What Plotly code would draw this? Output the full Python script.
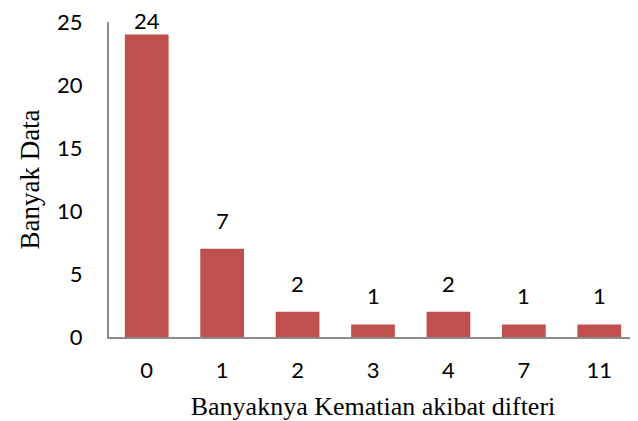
import plotly.graph_objects as go

categories = ["0", "1", "2", "3", "4", "7", "11"]
values = [24, 7, 2, 1, 2, 1, 1]
y_ticks = [0, 5, 10, 15, 20, 25]

SANS = "Lato, Open Sans, sans-serif"
SERIF = "Liberation Serif, Times New Roman, serif"

fig = go.Figure(go.Bar(
    x=categories, y=values,
    marker=dict(color="#C0504D", line=dict(width=0)),
    cliponaxis=False,
))

# data labels above bars (the tallest label is kept inside the plot area, as in the source)
top = max(values)
for i, v in enumerate(values):
    fig.add_annotation(
        x=i, y=v, text=str(v), showarrow=False, yanchor="bottom",
        yshift=-1 if v == top else 13,
        font=dict(family=SANS, size=22, color="black"),
    )

fig.update_layout(
    width=630, height=413,
    margin=dict(l=101, r=1, t=14, b=84, autoexpand=False),
    paper_bgcolor="white", plot_bgcolor="white",
    bargap=0.42, showlegend=False,
    xaxis=dict(
        type="category", categoryorder="array", categoryarray=categories,
        range=[-0.5, len(categories) - 0.5],
        showgrid=False, showline=True, linecolor="#8c8c8c", linewidth=2,
        ticks="", ticklabelstandoff=13, automargin=False,
        tickfont=dict(family=SANS, size=22, color="black"),
        title=dict(text="Banyaknya Kematian akibat difteri", standoff=14,
                   font=dict(family=SERIF, size=26, color="black")),
    ),
    yaxis=dict(
        range=[0, 25], tickvals=y_ticks, showgrid=False, zeroline=False, automargin=False,
        showline=True, linecolor="#8c8c8c", linewidth=2, ticks="", ticklabelstandoff=20,
        ticklabeloverflow="allow",
        tickfont=dict(family=SANS, size=22, color="black"),
        title=dict(text="Banyak Data", standoff=10,
                   font=dict(family=SERIF, size=27, color="black")),
    ),
)

fig.write_html("out.html")
